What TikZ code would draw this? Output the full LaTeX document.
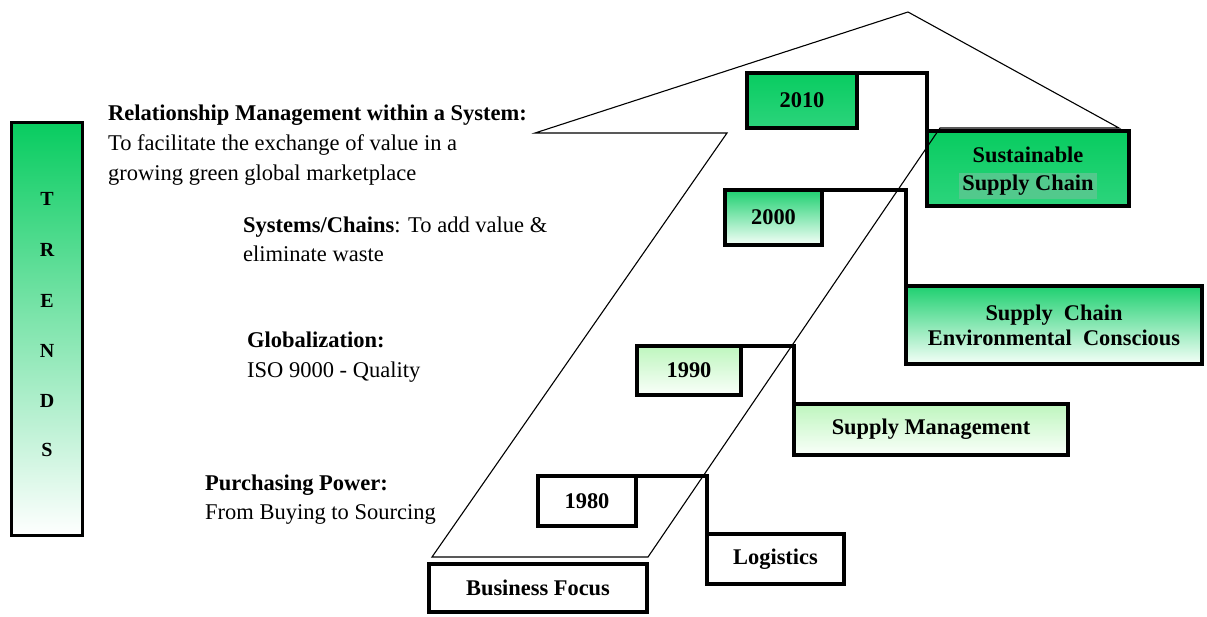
\documentclass[tikz,border=0pt]{standalone}
\usepackage{fontspec}
\setmainfont{Liberation Serif}
\definecolor{gA}{RGB}{8,204,96}
\definecolor{gAb}{RGB}{44,212,124}
\definecolor{gB}{RGB}{30,208,112}
\definecolor{gBb}{RGB}{245,255,248}
\definecolor{gC}{RGB}{190,246,190}
\definecolor{gCb}{RGB}{250,255,250}
\definecolor{hl}{RGB}{82,201,140}
\begin{document}
\begin{tikzpicture}[x=1pt,y=-1pt,
  box/.style={draw=black, line width=4pt, inner sep=0pt, outer sep=0pt, font=\fontsize{22.4}{25}\selectfont\bfseries, align=center},
  boxtxt/.style={inner sep=0pt, font=\fontsize{22.4}{25}\selectfont\bfseries, align=center},
  conn/.style={draw=black, line width=4pt},
  lbl/.style={anchor=base west, inner sep=0pt, font=\fontsize{22.5}{30}\selectfont},
  trl/.style={inner sep=0pt, font=\fontsize{20}{22}\selectfont\bfseries},
  outl/.style={draw=black, line width=1.1pt, line join=miter},
  dark/.style={top color=gA, bottom color=gAb},
  mid/.style={top color=gB, bottom color=gBb},
  light/.style={top color=gC, bottom color=gCb},
]
\useasboundingbox (0,0) rectangle (1207,616);

% TRENDS bar
\node[draw=black, line width=3pt, top color=gA, bottom color=white, minimum width=71pt, minimum height=413pt, inner sep=0pt] (trends) at (47,329) {};
\node[trl] (tT) at (47,199) {T};
\node[trl] (tR) at (47,250) {R};
\node[trl] (tE) at (47,301) {E};
\node[trl] (tN) at (47,351) {N};
\node[trl] (tD) at (47,401) {D};
\node[trl] (tS) at (47,450) {S};

% left texts
\node[lbl] (l1a) at (108,120) {\textbf{Relationship Management within a System:}};
\node[lbl] (l1b) at (108,150) {To facilitate the exchange of value in a};
\node[lbl] (l1c) at (108,180) {growing green global marketplace};
\node[lbl] (l2a) at (243,232) {\textbf{Systems/Chains}: To add value \&};
\node[lbl] (l2b) at (243,261) {eliminate waste};
\node[lbl] (l3a) at (247,347) {\textbf{Globalization:}};
\node[lbl] (l3b) at (247,377) {ISO 9000 - Quality};
\node[lbl] (l4a) at (205,490) {\textbf{Purchasing Power:}};
\node[lbl] (l4b) at (205,519) {From Buying to Sourcing};

% boxes
\node[box, dark, minimum width=110pt, minimum height=55pt] (y2010) at (802,100.5) {2010};
\node[box, dark, minimum width=202pt, minimum height=75pt] (sust) at (1028,168.5) {};
\fill[hl] (959,173) rectangle (1097,199);
\node[boxtxt] (sustl) at (1028,171) {Sustainable\\[3pt]Supply Chain};

\node[box, mid, minimum width=97pt, minimum height=55pt] (y2000) at (773.5,217.5) {2000};
\node[box, mid, minimum width=296pt, minimum height=78pt] (scec) at (1054,325) {Supply~ Chain\\Environmental~ Conscious};

\node[box, light, minimum width=104pt, minimum height=49pt] (y1990) at (689,370.5) {1990};
\node[box, light, minimum width=274pt, minimum height=51pt] (sm) at (931,429.5) {Supply Management};

\node[box, fill=white, minimum width=98pt, minimum height=50pt] (y1980) at (587,501) {1980};
\node[box, fill=white, minimum width=137pt, minimum height=50pt] (logi) at (775.5,559) {Logistics};
\node[box, fill=white, minimum width=218pt, minimum height=48pt] (bf) at (538,588) {Business Focus};

% connectors
\draw[conn] ([xshift=-2pt]y2010.north east) -| (sust.north west);
\draw[conn] ([xshift=-2pt]y2000.north east) -| (scec.north west);
\draw[conn] ([xshift=-2pt]y1990.north east) -| (sm.north west);
\draw[conn] ([xshift=-2pt]y1980.north east) -| (logi.north west);

% arrow outline
\draw[outl] (535,133) -- (908,12) -- (1119,128) -- (940,128) -- (648,557) -- (432,557) -- (727,133) -- cycle;
\end{tikzpicture}
\end{document}
